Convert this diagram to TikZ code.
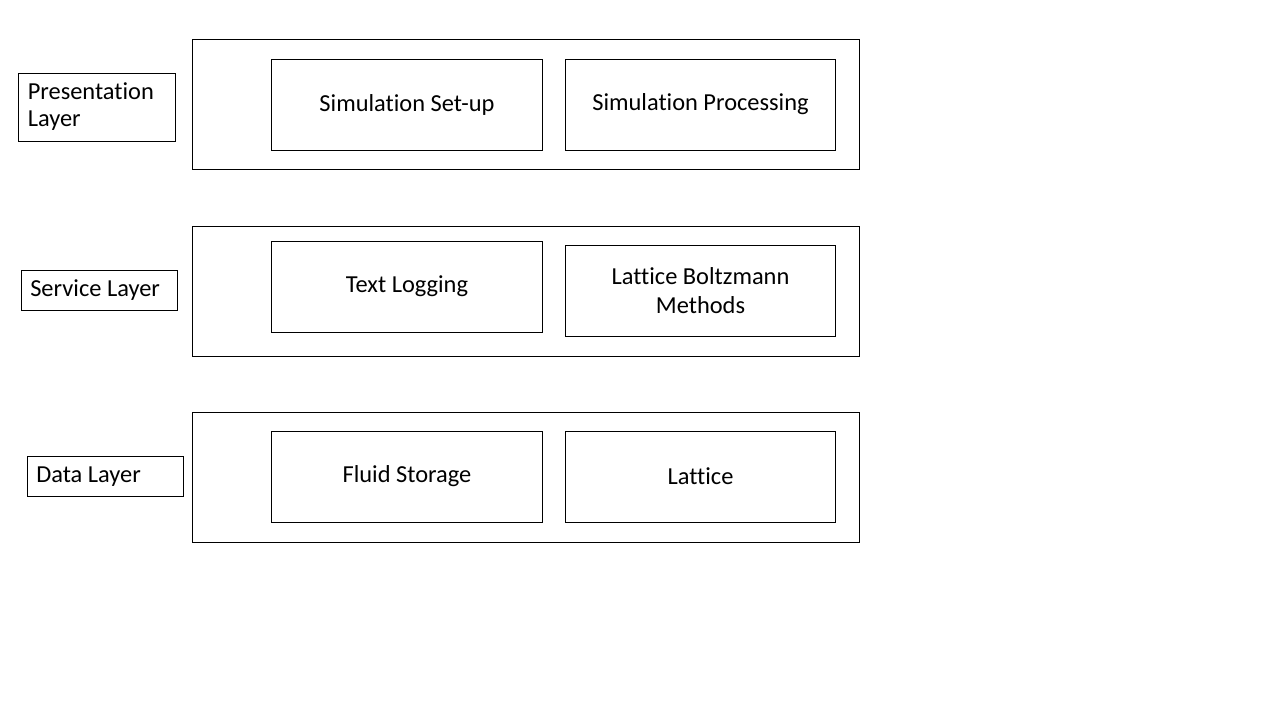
\documentclass[tikz,border=0pt]{standalone}
\usepackage{fontspec}
\setmainfont{Carlito}[Ligatures=NoCommon]
\usetikzlibrary{positioning}

% left-set layer name inside a fixed width
\newcommand{\layername}[1]{\makebox[2.77cm][l]{\begin{tabular}{@{}l@{}}#1\end{tabular}}}

\begin{document}
\begin{tikzpicture}[x=0.02cm, y=-0.02cm, every node/.style={font=\fontsize{13.9}{16.3}\selectfont},
    layerbox/.style={draw, line width=0.5pt, minimum width=13.34cm, minimum height=2.6cm},
    compbox/.style={draw, line width=0.5pt, minimum width=5.41cm, minimum height=1.82cm, align=center},
    labelbox/.style={draw, line width=0.5pt, minimum width=3.13cm, minimum height=0.78cm, inner xsep=0.18cm}]
  \useasboundingbox (0,0) rectangle (1280,720);

  % layers
  \node[layerbox] (pres) at (525.5,104) {};
  \node[layerbox] (serv) at (525.5,291) {};
  \node[layerbox] (data) at (525.5,477) {};

  \node[labelbox, minimum height=1.36cm] (preslbl) at (97,107) {\layername{Presentation\\[-1pt]Layer}};
  \node[labelbox] (servlbl) at (99.5,290.5) {\layername{Service Layer}};
  \node[labelbox] (datalbl) at (105.5,476.5) {\layername{Data Layer}};

  % components
  \node[compbox] (setup) at (407,104.5) {Simulation Set-up};
  \node[compbox] (proc) at (700.5,104.5) {Simulation Processing};
  \node[compbox] (log) at (407,286.5) {Text Logging};
  \node[compbox] (lbm) at (700.5,290.5) {Lattice Boltzmann\\Methods};
  \node[compbox] (fluid) at (407,476.5) {Fluid Storage};
  \node[compbox] (lattice) at (700.5,476.5) {Lattice};
\end{tikzpicture}
\end{document}
